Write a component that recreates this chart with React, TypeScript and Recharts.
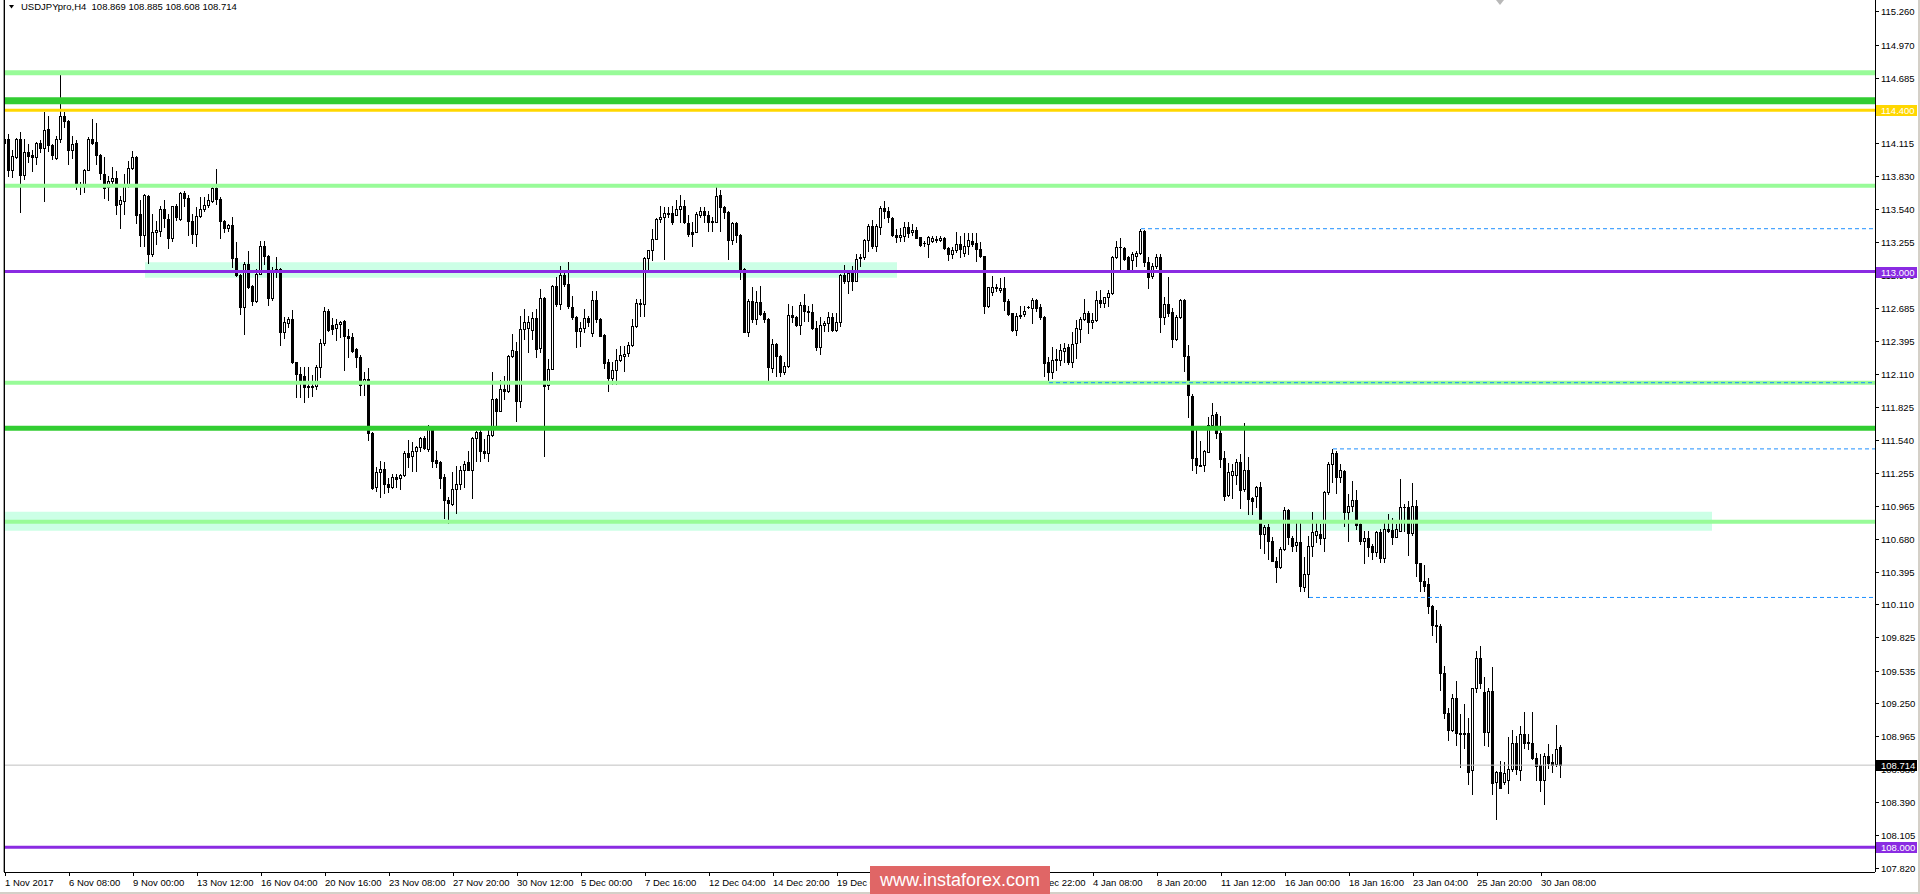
import React from 'react';
import { ComposedChart, Bar, XAxis, YAxis, ReferenceLine, ReferenceArea } from 'recharts';

const FONT = "'Liberation Sans', Arial, sans-serif";

const OPEN = [
114.118,114.152,113.883,113.993,114.147,113.837,114.040,114.008,113.993,114.112,
114.074,114.234,114.103,113.987,114.150,114.352,114.309,114.057,114.112,113.764,
113.753,113.883,114.147,114.124,114.016,113.848,113.733,113.785,113.816,113.588,
113.611,113.761,113.901,113.999,113.501,113.318,113.660,113.150,113.344,113.350,
113.544,113.460,113.292,113.565,113.455,113.683,113.643,113.443,113.324,113.483,
113.544,113.576,113.614,113.724,113.634,113.440,113.379,113.400,113.121,112.974,
112.690,113.066,112.875,112.742,112.980,113.226,113.139,112.768,112.994,113.023,
112.473,112.551,112.588,112.212,112.111,112.096,112.004,111.995,112.010,112.169,
112.380,112.661,112.539,112.507,112.545,112.574,112.443,112.429,112.325,112.261,
112.030,112.070,111.601,111.126,111.262,111.288,111.155,111.126,111.219,111.204,
111.233,111.424,111.395,111.444,111.473,111.554,111.459,111.641,111.364,111.343,
111.213,111.019,110.981,111.112,111.155,111.277,111.343,111.280,111.554,111.609,
111.439,111.421,111.581,111.893,111.792,111.980,111.960,112.264,112.313,111.879,
112.502,112.508,112.493,112.597,112.334,112.771,112.015,112.154,112.878,112.719,
112.974,112.893,112.696,112.603,112.482,112.511,112.597,112.464,112.754,112.589,
112.450,112.212,112.073,112.149,112.233,112.270,112.290,112.363,112.531,112.719,
112.719,113.116,113.188,113.284,113.452,113.475,113.510,113.507,113.492,113.544,
113.565,113.423,113.347,113.347,113.492,113.530,113.487,113.440,113.434,113.666,
113.559,113.521,113.275,113.423,113.321,113.023,112.479,112.748,112.589,112.739,
112.638,112.589,112.163,112.372,112.270,112.125,112.183,112.623,112.609,112.539,
112.710,112.661,112.652,112.507,112.342,112.536,112.553,112.609,112.492,112.559,
112.970,112.921,112.985,112.921,113.118,113.130,113.274,113.399,113.225,113.390,
113.552,113.523,113.465,113.321,113.298,113.312,113.390,113.341,113.364,113.298,
113.248,113.240,113.263,113.274,113.274,113.292,113.205,113.153,113.188,113.240,
113.159,113.225,113.269,113.248,113.196,113.133,112.704,112.826,112.863,112.840,
112.857,112.747,112.637,112.492,112.614,112.632,112.689,112.684,112.756,112.689,
112.609,112.218,112.125,112.232,112.232,112.314,112.343,112.212,112.377,112.502,
112.586,112.641,112.560,112.580,112.757,112.725,112.783,112.812,113.130,113.211,
113.205,113.130,113.101,113.139,113.159,113.356,113.087,112.965,113.046,113.130,
112.603,112.719,112.652,112.415,112.603,112.754,112.270,111.923,111.381,111.320,
111.320,111.436,111.668,111.763,111.601,111.381,111.060,111.233,111.233,111.349,
111.112,111.277,111.033,111.048,111.126,110.721,110.785,110.657,110.489,110.431,
110.590,110.929,110.686,110.625,110.654,110.265,110.373,110.616,110.714,110.720,
110.685,111.082,111.328,111.424,111.212,111.270,110.908,110.966,111.016,110.807,
110.662,110.685,110.619,110.561,110.740,110.512,110.764,110.758,110.697,110.749,
110.958,110.958,110.726,110.966,110.468,110.315,110.286,110.097,109.932,109.924,
109.513,109.171,109.017,109.295,108.997,108.988,108.991,108.670,109.382,109.643,
109.353,109.006,109.359,108.571,108.655,108.571,108.583,108.678,108.910,108.670,
108.988,108.916,108.910,108.774,108.716,108.583,108.794,108.742,108.722,108.869,
];

const HIGH = [
114.190,114.196,114.057,114.160,114.210,114.152,114.109,114.057,114.125,114.138,
114.384,114.355,114.110,114.181,114.717,114.384,114.315,114.181,114.138,113.776,
113.892,114.167,114.326,114.289,114.022,113.999,113.834,113.906,113.877,113.660,
113.848,113.964,114.051,114.005,113.622,113.675,113.666,113.501,113.443,113.573,
113.617,113.501,113.573,113.588,113.689,113.698,113.663,113.501,113.559,113.651,
113.651,113.675,113.733,113.892,113.646,113.449,113.414,113.478,113.255,112.980,
113.081,113.176,112.887,113.023,113.269,113.269,113.145,113.043,113.130,113.032,
112.609,112.609,112.667,112.218,112.174,112.174,112.174,112.102,112.189,112.415,
112.696,112.675,112.597,112.589,112.570,112.583,112.501,112.464,112.334,112.276,
112.125,112.160,111.607,111.300,111.358,111.343,111.207,111.242,111.242,111.242,
111.444,111.537,111.517,111.488,111.560,111.569,111.670,111.647,111.439,111.358,
111.242,111.039,111.262,111.309,111.314,111.358,111.444,111.560,111.618,111.641,
111.546,111.624,112.131,111.899,112.059,112.096,112.276,112.458,112.386,112.617,
112.676,112.618,112.647,112.676,112.849,112.777,112.241,112.885,112.951,113.052,
113.009,113.081,112.791,112.610,112.560,112.676,112.618,112.835,112.835,112.595,
112.455,112.241,112.212,112.328,112.357,112.357,112.386,112.589,112.763,112.763,
113.124,113.191,113.371,113.463,113.573,113.559,113.559,113.573,113.625,113.666,
113.625,113.487,113.429,113.515,113.559,113.559,113.530,113.472,113.733,113.712,
113.573,113.527,113.429,113.429,113.327,113.029,112.763,112.864,112.835,112.878,
112.661,112.595,112.415,112.378,112.276,112.212,112.718,112.704,112.617,112.733,
112.805,112.704,112.718,112.574,112.603,112.574,112.646,112.637,112.637,112.979,
113.060,113.014,113.051,113.153,113.153,113.283,113.413,113.448,113.413,113.573,
113.616,113.564,113.470,113.370,113.379,113.428,113.428,113.413,113.384,113.303,
113.265,113.306,113.312,113.312,113.306,113.297,113.216,113.211,113.341,113.312,
113.332,113.332,113.332,113.332,113.254,113.138,112.869,112.965,112.892,112.944,
112.956,112.762,112.642,112.637,112.704,112.704,112.704,112.768,112.762,112.718,
112.615,112.256,112.343,112.328,112.371,112.377,112.371,112.479,112.580,112.603,
112.762,112.661,112.638,112.835,112.841,112.783,112.844,113.139,113.269,113.292,
113.211,113.135,113.168,113.182,113.372,113.362,113.124,113.072,113.153,113.153,
112.783,112.951,112.681,112.623,112.762,112.762,112.366,111.937,111.624,111.526,
111.451,111.734,111.856,111.778,111.749,111.439,111.335,111.329,111.372,111.416,
111.682,111.387,111.045,111.141,111.170,110.802,110.808,110.698,110.518,110.611,
110.958,110.935,110.707,110.837,110.842,110.523,110.700,110.908,110.836,110.807,
111.097,111.343,111.460,111.444,111.328,111.276,111.068,111.183,111.102,110.813,
110.749,110.749,110.633,110.749,110.764,110.845,110.894,110.859,110.807,111.198,
110.981,111.010,111.160,111.016,110.473,110.454,110.335,110.102,110.060,109.938,
109.576,109.214,109.330,109.446,109.162,109.243,109.122,109.388,109.707,109.750,
109.475,109.382,109.568,108.664,108.751,108.745,108.959,109.017,108.968,109.055,
109.177,108.983,109.177,108.815,108.809,108.815,108.901,108.809,109.064,108.885,
];

const LOW = [
113.921,113.834,113.819,113.987,113.515,113.805,113.950,113.872,113.935,114.037,
113.611,114.051,113.979,113.980,114.124,114.254,113.935,113.987,113.718,113.675,
113.689,113.878,114.109,113.935,113.805,113.640,113.622,113.747,113.501,113.379,
113.501,113.733,113.892,113.420,113.226,113.226,113.075,113.139,113.240,113.313,
113.385,113.205,113.269,113.449,113.449,113.565,113.321,113.249,113.220,113.478,
113.524,113.559,113.602,113.588,113.292,113.347,113.356,113.037,112.965,112.632,
112.458,112.858,112.713,112.733,112.975,113.066,112.710,112.754,112.956,112.365,
112.423,112.522,112.205,111.914,111.914,111.865,111.914,111.922,111.980,112.088,
112.363,112.488,112.458,112.409,112.435,112.148,112.261,112.305,112.169,111.931,
111.931,111.540,111.115,111.097,111.039,111.077,111.082,111.120,111.126,111.112,
111.228,111.306,111.271,111.271,111.444,111.459,111.444,111.306,111.300,111.120,
110.860,110.813,110.975,110.900,111.112,111.126,111.277,111.033,111.358,111.358,
111.381,111.358,111.575,111.667,111.786,111.893,111.951,112.255,111.705,111.821,
112.415,112.299,112.415,112.256,112.299,111.400,111.981,112.150,112.705,112.676,
112.878,112.681,112.589,112.343,112.357,112.473,112.531,112.444,112.560,112.438,
112.160,111.966,112.024,112.024,112.227,112.140,112.270,112.357,112.516,112.618,
112.618,113.009,113.096,113.280,113.429,113.110,113.472,113.414,113.487,113.429,
113.423,113.313,113.226,113.342,113.472,113.429,113.356,113.356,113.429,113.356,
113.463,113.110,113.240,113.255,112.936,112.473,112.444,112.560,112.545,112.625,
112.560,112.038,112.125,112.096,112.096,112.110,112.168,112.559,112.530,112.458,
112.574,112.574,112.501,112.319,112.284,112.481,112.487,112.487,112.487,112.530,
112.898,112.811,112.840,112.915,113.051,113.109,113.176,113.205,113.176,113.327,
113.465,113.428,113.312,113.254,113.269,113.269,113.298,113.321,113.287,113.225,
113.225,113.130,113.254,113.254,113.263,113.196,113.101,113.115,113.167,113.124,
113.138,113.153,113.225,113.095,113.124,112.637,112.689,112.800,112.834,112.820,
112.666,112.626,112.481,112.452,112.597,112.617,112.680,112.550,112.660,112.588,
112.096,112.035,112.073,112.149,112.192,112.212,112.198,112.169,112.250,112.386,
112.580,112.467,112.508,112.574,112.696,112.690,112.699,112.806,113.116,113.003,
113.101,113.003,113.003,113.052,113.153,113.052,112.855,112.945,113.029,112.473,
112.545,112.618,112.343,112.406,112.597,112.140,111.734,111.277,111.248,111.309,
111.265,111.430,111.633,111.552,111.300,111.016,111.054,111.033,111.155,110.947,
111.097,110.895,110.895,110.952,110.599,110.553,110.504,110.483,110.301,110.425,
110.582,110.634,110.576,110.576,110.223,110.222,110.170,110.532,110.648,110.633,
110.570,111.068,111.169,111.073,111.169,110.793,110.662,110.923,110.764,110.633,
110.465,110.532,110.503,110.532,110.474,110.474,110.735,110.633,110.691,110.743,
110.749,110.538,110.714,110.358,110.222,110.228,110.031,109.846,109.779,109.365,
109.127,108.933,109.012,108.890,108.699,108.867,108.554,108.467,109.345,109.388,
108.890,108.881,108.467,108.244,108.515,108.548,108.476,108.664,108.635,108.583,
108.867,108.852,108.765,108.583,108.490,108.380,108.693,108.655,108.707,108.608,
];

const CLOSE = [
114.150,113.883,114.005,114.152,113.837,114.042,114.002,113.993,114.118,114.071,
114.231,114.100,114.016,114.152,114.352,114.306,114.057,114.109,113.761,113.750,
113.883,114.155,114.118,114.013,113.854,113.727,113.790,113.814,113.582,113.617,
113.761,113.901,113.996,113.495,113.318,113.666,113.153,113.344,113.362,113.544,
113.463,113.292,113.565,113.472,113.680,113.640,113.437,113.324,113.486,113.544,
113.582,113.617,113.724,113.631,113.437,113.379,113.400,113.119,112.971,112.690,
113.066,112.864,112.742,112.980,113.226,113.139,112.768,112.994,113.023,112.473,
112.565,112.588,112.212,112.111,112.030,111.995,111.995,112.010,112.174,112.380,
112.661,112.493,112.505,112.545,112.565,112.438,112.423,112.313,112.255,112.018,
112.070,111.595,111.120,111.262,111.285,111.155,111.126,111.219,111.199,111.233,
111.427,111.387,111.444,111.479,111.554,111.470,111.641,111.358,111.335,111.207,
111.016,110.990,111.112,111.155,111.277,111.329,111.280,111.554,111.609,111.439,
111.421,111.581,111.893,111.786,111.980,111.960,112.270,112.322,111.879,112.502,
112.566,112.566,112.597,112.328,112.771,112.009,112.154,112.878,112.719,112.974,
112.893,112.699,112.603,112.482,112.511,112.597,112.560,112.754,112.589,112.444,
112.204,112.073,112.149,112.233,112.276,112.285,112.363,112.531,112.728,112.728,
113.116,113.188,113.284,113.452,113.475,113.510,113.501,113.429,113.544,113.565,
113.429,113.327,113.327,113.501,113.530,113.487,113.434,113.434,113.654,113.559,
113.521,113.275,113.423,113.321,113.023,112.479,112.748,112.589,112.739,112.632,
112.589,112.169,112.372,112.270,112.125,112.183,112.623,112.603,112.539,112.710,
112.655,112.652,112.507,112.342,112.536,112.553,112.603,112.492,112.559,112.970,
112.915,112.985,112.921,113.109,113.130,113.274,113.399,113.225,113.399,113.552,
113.523,113.471,113.321,113.298,113.321,113.390,113.332,113.364,113.292,113.234,
113.245,113.298,113.292,113.280,113.292,113.205,113.153,113.188,113.240,113.196,
113.225,113.274,113.240,113.196,113.133,112.704,112.863,112.863,112.854,112.857,
112.742,112.632,112.492,112.617,112.623,112.660,112.695,112.756,112.681,112.603,
112.204,112.125,112.232,112.241,112.319,112.337,112.212,112.371,112.511,112.586,
112.641,112.560,112.580,112.754,112.725,112.777,112.817,113.130,113.211,113.217,
113.110,113.008,113.153,113.162,113.356,113.081,112.951,113.052,113.130,112.603,
112.719,112.638,112.415,112.609,112.754,112.264,111.928,111.378,111.320,111.314,
111.445,111.668,111.758,111.595,111.372,111.054,111.256,111.271,111.349,111.103,
111.277,111.025,111.010,111.126,110.721,110.785,110.657,110.489,110.431,110.590,
110.929,110.692,110.620,110.654,110.266,110.373,110.616,110.740,110.743,110.685,
111.088,111.328,111.424,111.212,111.276,110.908,110.966,111.016,110.801,110.656,
110.685,110.610,110.561,110.740,110.512,110.764,110.749,110.697,110.764,110.958,
110.952,110.726,110.966,110.465,110.315,110.271,110.092,109.930,109.924,109.510,
109.171,109.017,109.295,108.997,108.988,108.997,108.658,109.382,109.643,109.423,
109.006,109.359,108.563,108.655,108.519,108.644,108.678,108.910,108.678,108.988,
108.910,108.910,108.774,108.707,108.583,108.794,108.736,108.713,108.852,108.714,
];

// time axis labels (the two labels fully hidden under the watermark are omitted)
const TIME_TICKS = [0,16,32,48,64,80,96,112,128,144,160,176,192,208,256,272,288,304,320,336,352,368,384];
const TIME_LABELS = ["1 Nov 2017","6 Nov 08:00","9 Nov 00:00","13 Nov 12:00","16 Nov 04:00","20 Nov 16:00","23 Nov 08:00","27 Nov 20:00","30 Nov 12:00","5 Dec 00:00","7 Dec 16:00","12 Dec 04:00","14 Dec 20:00","19 Dec 08:00","28 Dec 22:00","4 Jan 08:00","8 Jan 20:00","11 Jan 12:00","16 Jan 00:00","18 Jan 16:00","23 Jan 04:00","25 Jan 20:00","30 Jan 08:00"];

const PRICE_TICKS = [115.26,114.97,114.685,114.4,114.115,113.83,113.54,113.255,112.97,112.685,112.395,112.11,111.825,111.54,111.255,110.965,110.68,110.395,110.11,109.825,109.535,109.25,108.965,108.68,108.39,108.105,107.82];

// price tags shown on the axis (drawn after the regular ticks)
const TAG_PRICES = [114.4001, 113.0, 108.0, 108.714];
const TAG_TEXTS = ['114.400', '113.000', '108.000', '108.714'];
const TAG_COLORS = ['#FFD700', '#8A2BE2', '#8A2BE2', '#000000'];

// horizontal levels
const SOLID_LEVELS = [114.726, 114.483, 114.400, 113.745, 113.000, 112.035, 111.640, 110.827, 108.000];
const SOLID_COLORS = ['#98FB98', '#32CD32', '#FFD700', '#98FB98', '#8A2BE2', '#98FB98', '#32CD32', '#98FB98', '#8A2BE2'];
const SOLID_WIDTHS = [5, 7, 3, 4, 3, 4, 5, 4, 3];

const DASH_LEVELS = [113.372, 112.035, 111.460, 110.170];
const DASH_START = [284, 261, 332, 326];

const BAND_X1 = [35, -0.25];
const BAND_X2 = [223, 426.75];
const BAND_Y1 = [112.947, 110.750];
const BAND_Y2 = [113.080, 110.915];

const LAST_PRICE = 108.714;

const X_DOMAIN: [number, number] = [-0.25, 467.5];
const Y_DOMAIN: [number, number] = [107.786, 115.358];
const PLOT_BOTTOM = 872;
const AXIS_X = 1875;

const data = OPEN.map((o, i) => {
  const c = CLOSE[i];
  const h = Math.max(HIGH[i], o, c);
  const l = Math.min(LOW[i], o, c);
  return { i, o, h, l, c, range: [l, h] };
});

const Candle = (props: any) => {
  const { x, y, width, height, payload } = props;
  if (!payload || x == null) return null;
  const { o, h, l, c } = payload;
  const top = Math.min(y, y + height);
  const span = Math.abs(height);
  const ppu = h > l ? span / (h - l) : 0;
  const toY = (p: number) => top + (h - p) * ppu;
  const cx = Math.floor(x + width / 2);
  const yH = Math.round(toY(h));
  const yL = Math.round(toY(l));
  const yO = Math.round(toY(o));
  const yC = Math.round(toY(c));
  const bt = Math.min(yO, yC);
  const bb = Math.max(yO, yC);
  const bull = c > o;
  let body;
  if (bb - bt < 1) {
    body = <line x1={cx - 1} x2={cx + 2} y1={bt + 0.5} y2={bt + 0.5} stroke="#000" strokeWidth={1} shapeRendering="crispEdges" />;
  } else if (bull) {
    body = <rect x={cx - 0.5} y={bt + 0.5} width={2} height={bb - bt} fill="#fff" stroke="#000" strokeWidth={1} shapeRendering="crispEdges" />;
  } else {
    body = <rect x={cx - 1} y={bt} width={3} height={bb - bt + 1} fill="#000" shapeRendering="crispEdges" />;
  }
  return (
    <g>
      <line x1={cx + 0.5} x2={cx + 0.5} y1={yH} y2={yL + 1} stroke="#000" strokeWidth={1} shapeRendering="crispEdges" />
      {body}
    </g>
  );
};

const TimeTick = (props: any) => {
  const { x, payload } = props;
  const idx = TIME_TICKS.indexOf(payload.value);
  const label = idx >= 0 ? TIME_LABELS[idx] : '';
  const px = Math.round(x);
  return (
    <g>
      <line x1={px + 0.5} x2={px + 0.5} y1={PLOT_BOTTOM} y2={PLOT_BOTTOM + 4} stroke="#000" shapeRendering="crispEdges" />
      <text x={px} y={PLOT_BOTTOM + 14} fontSize={9.5} fill="#000" fontFamily={FONT}>{label}</text>
    </g>
  );
};

const PriceTick = (props: any) => {
  const { y, payload } = props;
  const py = Math.round(y);
  const t = TAG_PRICES.indexOf(payload.value);
  if (t >= 0) {
    return (
      <g>
        <rect x={AXIS_X + 1} y={py - 5} width={41} height={11} fill={TAG_COLORS[t]} />
        <text x={AXIS_X + 6} y={py + 4} fontSize={9.5} fill="#fff" fontFamily={FONT}>{TAG_TEXTS[t]}</text>
      </g>
    );
  }
  return (
    <g>
      <line x1={AXIS_X} x2={AXIS_X + 4} y1={py + 0.5} y2={py + 0.5} stroke="#000" shapeRendering="crispEdges" />
      <text x={AXIS_X + 6} y={py + 3.5} fontSize={9.5} fill="#000" fontFamily={FONT}>{Number(payload.value).toFixed(3)}</text>
    </g>
  );
};

export default function App() {
  return (
    <div style={{ position: 'absolute', left: 0, top: 0, width: 1920, height: 894, background: '#fff', overflow: 'hidden' }}>
      <ComposedChart width={1920} height={894} data={data} margin={{ top: 0, right: 0, bottom: 0, left: 4 }}>
        <XAxis type="number" dataKey="i" domain={X_DOMAIN} allowDataOverflow ticks={TIME_TICKS} interval={0}
          tick={<TimeTick />} tickLine={false} tickSize={0} tickMargin={0} height={22}
          axisLine={{ stroke: '#000', shapeRendering: 'crispEdges' }} />
        <YAxis orientation="right" type="number" domain={Y_DOMAIN} allowDataOverflow
          ticks={[...PRICE_TICKS, ...TAG_PRICES]} interval={0}
          tick={<PriceTick />} tickLine={false} tickSize={0} tickMargin={0} width={45}
          axisLine={{ stroke: '#000', shapeRendering: 'crispEdges' }} />
        {BAND_X1.map((x1, k) => (
          <ReferenceArea key={'band' + k} x1={x1} x2={BAND_X2[k]} y1={BAND_Y1[k]} y2={BAND_Y2[k]}
            fill="#CCFFE6" fillOpacity={1} stroke="none" ifOverflow="hidden" />
        ))}
        <Bar dataKey="range" shape={<Candle />} isAnimationActive={false} barSize={3} />
        {SOLID_LEVELS.map((p, k) => (
          <ReferenceLine key={'lvl' + k} y={p} stroke={SOLID_COLORS[k]} strokeWidth={SOLID_WIDTHS[k]} />
        ))}
        {DASH_LEVELS.map((p, k) => (
          <ReferenceLine key={'dash' + k} segment={[{ x: DASH_START[k], y: p }, { x: X_DOMAIN[1], y: p }]}
            stroke="#1E90FF" strokeWidth={1} strokeDasharray="4 3" />
        ))}
        <ReferenceLine y={LAST_PRICE} stroke="#C0C0C0" strokeWidth={1} />
      </ComposedChart>
      <svg width={1920} height={894} style={{ position: 'absolute', left: 0, top: 0, pointerEvents: 'none' }}>
        <rect x={3} y={0} width={1} height={PLOT_BOTTOM} fill="#A0A0A0" />
        <rect x={4} y={0} width={1} height={PLOT_BOTTOM} fill="#000" />
        <rect x={1918} y={0} width={2} height={894} fill="#D4D0C8" />
        <rect x={0} y={892} width={1920} height={2} fill="#D4D0C8" />
        <polygon points="9,5 14,5 11.5,8.5" fill="#000" />
        <text x={21} y={10} fontSize={9.5} fontFamily={FONT} fill="#000" style={{ whiteSpace: 'pre' }}>USDJPYpro,H4  108.869 108.885 108.608 108.714</text>
        <polygon points="1496,0 1504,0 1500,5" fill="#B8B8B8" />
        <rect x={870} y={866} width={180} height={28} fill="#E06666" />
        <text x={960} y={886} fontSize={18} fontFamily={FONT} fill="#fff" textAnchor="middle">www.instaforex.com</text>
      </svg>
    </div>
  );
}
